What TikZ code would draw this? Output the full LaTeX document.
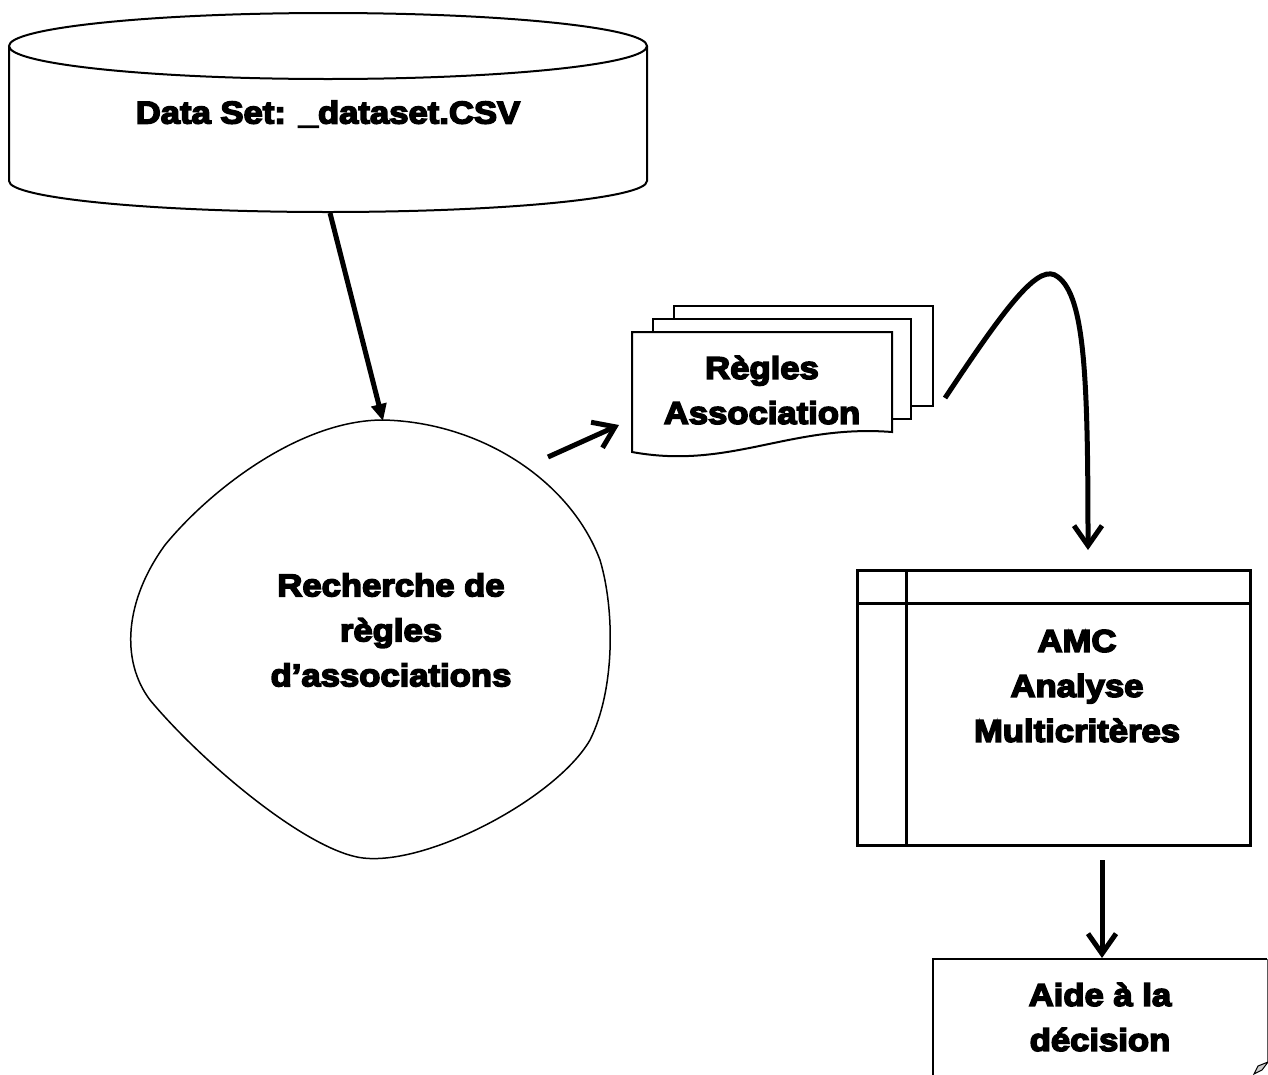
\documentclass[tikz,border=0pt]{standalone}
\usepackage{fontspec}
\newfontfamily\blk{Liberation Sans Bold}[FakeStretch=1.1,FakeBold=5]
\usetikzlibrary{arrows.meta}
\begin{document}
\begin{tikzpicture}[x=1pt,y=-1pt,
  lbl/.style={font=\blk\fontsize{31.5}{45}\selectfont, align=center, inner sep=0pt},
  arr/.style={line width=5pt, -{Straight Barb[length=20pt,width=28pt,line width=5pt]}},
  shp/.style={line width=2pt, fill=white}]
\useasboundingbox (0,0) rectangle (1268,1074);
% cylinder
\draw[shp] (9,46) -- (9,181) arc[start angle=180,end angle=0,x radius=319,y radius=31] -- (647,46);
\draw[shp] (328,46) ellipse [x radius=319, y radius=33];
\node[lbl] (ds) at (328,114) {Data Set: \_dataset.CSV};
\coordinate (dsb) at (330,213);
% blob
\draw[line width=1.5pt] (383,420) .. controls (480,422) and (570,480) .. (600,560)
  .. controls (615,610) and (615,690) .. (590,740)
  .. controls (555,800) and (420,870) .. (357,857)
  .. controls (300,845) and (200,760) .. (150,700)
  .. controls (120,660) and (125,600) .. (165,545)
  .. controls (210,490) and (300,420) .. cycle;
\coordinate (blobtop) at (383,421);
\node[lbl] (rech) at (391,630) {Recherche de\\règles\\d’associations};
% multi document
\draw[shp] (674,306) rectangle (933,406);
\draw[shp] (653,319) rectangle (911,419);
\draw[shp] (632,332) -- (892,332) -- (892,432) .. controls (790,424) and (730,470) .. (632,452) -- cycle;
\node[lbl] (rules) at (762,390) {Règles\\Association};
\coordinate (a2s) at (548,457);
\coordinate (a2e) at (619,425);
% AMC box
\draw[line width=3pt] (857,570) rectangle (1250,845);
\draw[line width=3pt] (906,570) -- (906,845);
\draw[line width=3pt] (857,603) -- (1250,603);
\node[lbl] (amc) at (1077,686) {AMC\\Analyse\\Multicritères};
\coordinate (c1) at (945,398);
\coordinate (c2) at (1088,550);
\coordinate (amcb) at (1102,860);
\coordinate (aidet) at (1102,958);
% Aide box
\draw[line width=1.5pt] (933,1080) -- (933,959) -- (1267,959);
\draw[line width=1pt, draw=gray!70!black] (1267,959) -- (1267,1062);
\draw[line width=1pt, fill=gray!40] (1268,1062) -- (1258,1066) -- (1254,1074) -- (1262,1070) -- cycle;
\node[lbl] (aide) at (1100,1017) {Aide à la\\décision};
% arrows
\draw[line width=5pt, -{Triangle[length=17pt,width=15pt]}] (dsb) -- (blobtop);
\draw[arr] (a2s) -- (a2e);
\draw[arr] (c1) .. controls (1010,300) and (1040,262) .. (1058,277) .. controls (1085,297) and (1088,380) .. (c2);
\draw[arr] (amcb) -- (aidet);
\end{tikzpicture}
\end{document}
